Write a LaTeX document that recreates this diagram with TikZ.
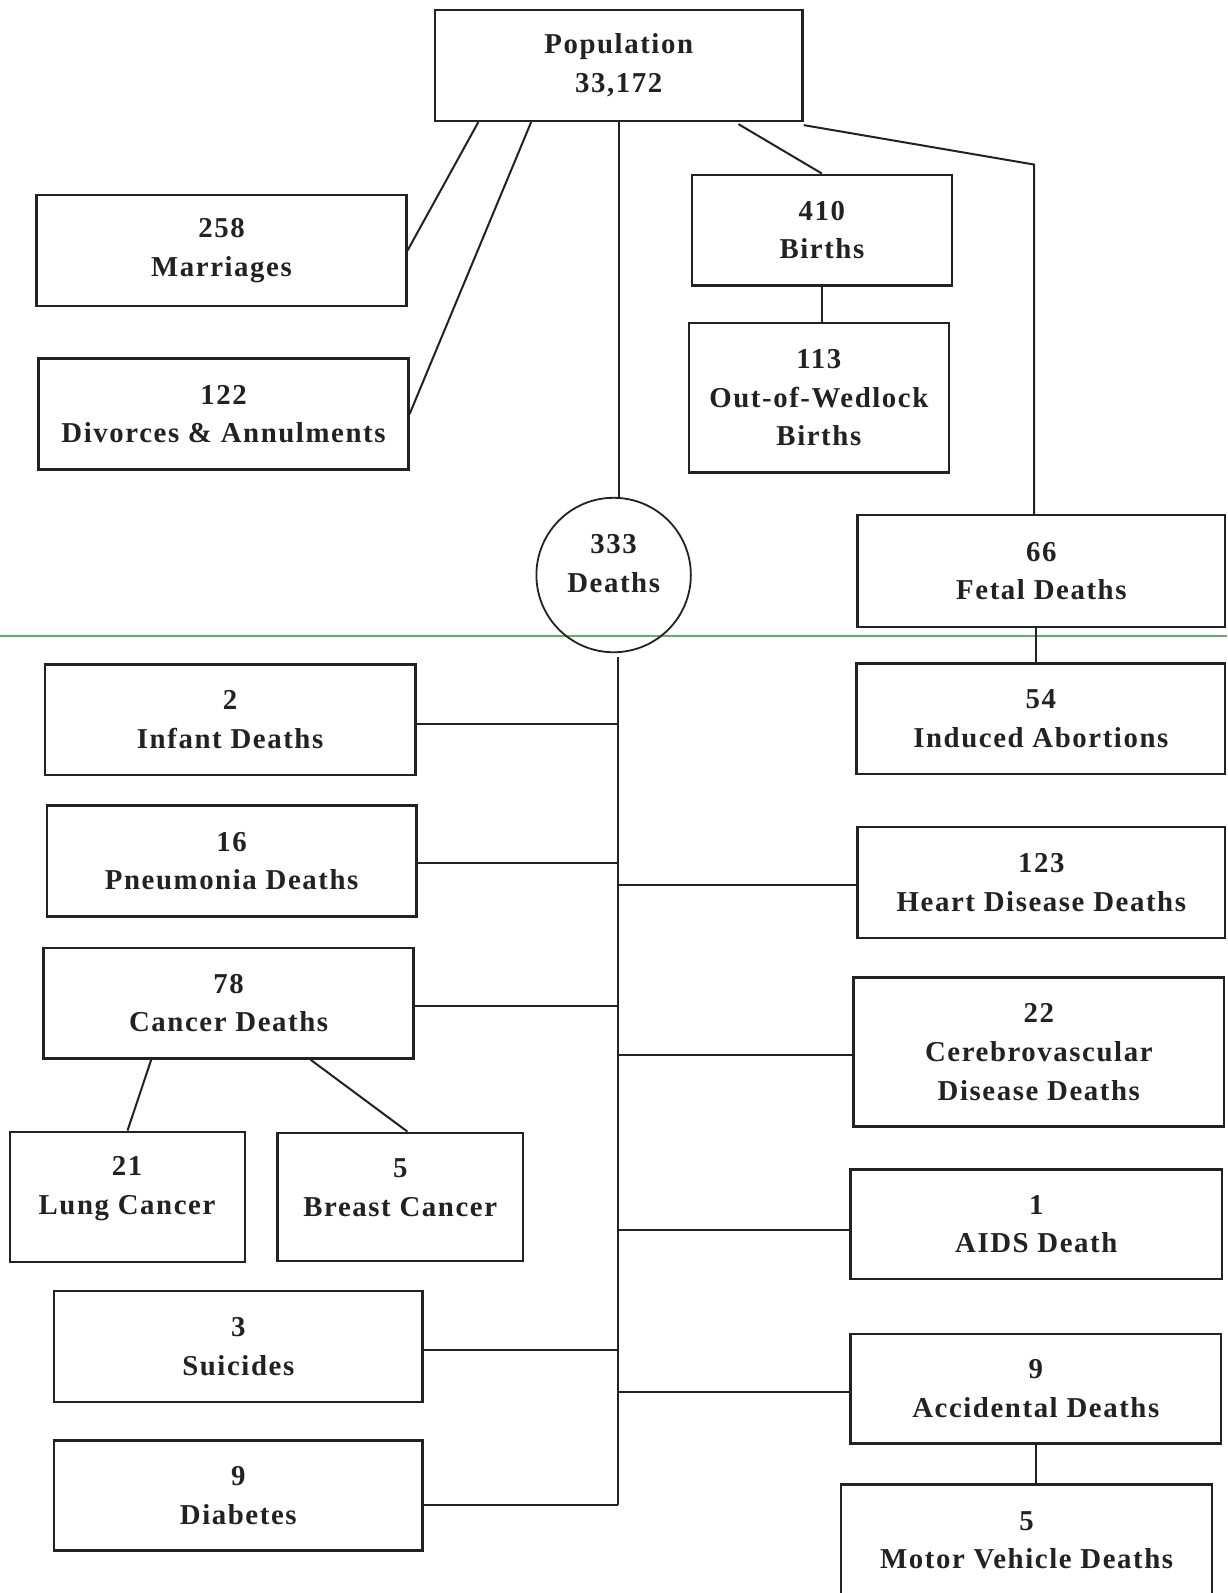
\documentclass[tikz,border=0pt]{standalone}
\usepackage{fontspec}
\setmainfont{Liberation Serif}[LetterSpace=5.5]
\usetikzlibrary{fit,calc}
\definecolor{ink}{HTML}{222222}
\definecolor{scanline}{HTML}{62B062}
\newcommand\lblfont{\bfseries\fontsize{14.4}{19.3}\selectfont}
% #1 name, #2 corners, #3 text
\newcommand\mkbox[3]{%
  \node[box={#2}] (#1) {};
  \node[lbl] (#1t) at (#1.center) {#3};}
\begin{document}
\begin{tikzpicture}[x=0.50785pt,y=-0.50785pt,
  box/.style={draw=ink, line width=1.2pt, inner sep=0pt, fit={#1}},
  lbl/.style={align=center, text=ink, font=\lblfont, inner sep=0pt},
  conn/.style={draw=ink, line width=1pt},
 ]
\clip (0,0) rectangle (1208,1568);
\fill[white] (0,0) rectangle (1208,1568);
\draw[scanline, line width=0.8pt] (0,626) -- (1208,626);

\mkbox{pop}{(428,10) (790,119)}{Population\\33,172}
\mkbox{marr}{(36,192) (400,301)}{258\\Marriages}
\mkbox{div}{(38,353) (402,462)}{122\\Divorces \& Annulments}
\mkbox{births}{(681,172) (937,281)}{410\\Births}
\mkbox{oow}{(678,318) (934,465)}{113\\Out-of-Wedlock\\Births}
\mkbox{fetal}{(844,507) (1206,617)}{66\\Fetal Deaths}
\mkbox{induced}{(843,653) (1206,762)}{54\\Induced Abortions}
\mkbox{infant}{(44,654) (409,763)}{2\\Infant Deaths}
\mkbox{pneu}{(46,793) (410,902)}{16\\Pneumonia Deaths}
\mkbox{heart}{(844,814) (1206,923)}{123\\Heart Disease Deaths}
\mkbox{cancer}{(43,933) (407,1042)}{78\\Cancer Deaths}
\mkbox{cereb}{(840,962) (1205,1109)}{22\\Cerebrovascular\\Disease Deaths}
\node[box={(10,1114) (241,1242)}] (lung) {};
\node[lbl] (lungt) at (125,1170) {21\\Lung Cancer};
\node[box={(273,1115) (515,1241)}] (breast) {};
\node[lbl] (breastt) at (394,1169) {5\\Breast Cancer};
\mkbox{aids}{(837,1151) (1203,1259)}{1\\AIDS Death}
\mkbox{suic}{(53,1271) (416,1380)}{3\\Suicides}
\mkbox{acc}{(837,1313) (1202,1421)}{9\\Accidental Deaths}
\mkbox{diab}{(53,1418) (416,1526)}{9\\Diabetes}
\node[box={(828,1461) (1193,1570)}] (motor) {};
\node[lbl] (motort) at (1010.5,1516) {5\\Motor Vehicle Deaths};

\node[draw=ink, line width=0.9pt, circle, inner sep=0pt, minimum size=77.2pt] (deaths) at (604,566) {};
\node[lbl] (deathst) at (604,555) {333\\Deaths};

% connectors from population
\draw[conn] ($(pop.south west)+(44,0)$) -- (marr.east);
\draw[conn] ($(pop.south west)+(96,0)$) -- (div.east);
\draw[conn] (pop.south) -- (pop.south |- deaths.north);
\draw[conn] ($(pop.south west)+(300,2)$) -- (births.north);
\coordinate (fk) at (1018,162);
\draw[conn] ($(pop.south east)+(0,3)$) -- (fk) -- (fk |- fetal.north);
\draw[conn] (births.south) -- (births.south |- oow.north);
\draw[conn] ($(fetal.south)+(-5,0)$) coordinate (f1) -- (f1 |- induced.north);

% trunk
\coordinate (trunk) at (608,1481);
\draw[conn] ($(deaths.south)+(4,4)$) -- (trunk);
\draw[conn] ($(infant.east)+(0,4)$) coordinate (b1) -- (b1 -| trunk);
\draw[conn] ($(pneu.east)+(0,2)$) coordinate (b2) -- (b2 -| trunk);
\draw[conn] ($(heart.west)+(0,2.5)$) coordinate (b3) -- (b3 -| trunk);
\draw[conn] ($(cancer.east)+(0,3)$) coordinate (b4) -- (b4 -| trunk);
\draw[conn] ($(cereb.west)+(0,2.5)$) coordinate (b5) -- (b5 -| trunk);
\draw[conn] ($(aids.west)+(0,6)$) coordinate (b6) -- (b6 -| trunk);
\draw[conn] ($(suic.east)+(0,3.5)$) coordinate (b7) -- (b7 -| trunk);
\draw[conn] ($(acc.west)+(0,3)$) coordinate (b8) -- (b8 -| trunk);
\draw[conn] ($(diab.east)+(0,9)$) coordinate (b9) -- (b9 -| trunk);

% cancer sub-branches
\draw[conn] ($(cancer.south west)+(107,0)$) -- (lung.north);
\draw[conn] ($(cancer.south west)+(264,0)$) -- ($(breast.north)+(7,0)$);
\draw[conn] (acc.south) -- (acc.south |- motor.north);
\end{tikzpicture}
\end{document}
